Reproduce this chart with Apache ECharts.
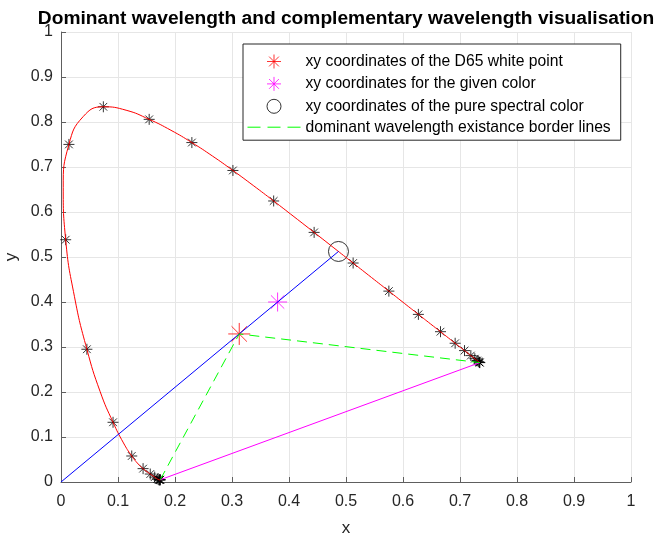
<!DOCTYPE html>
<html>
<head>
<meta charset="utf-8">
<script src="https://cdn.jsdelivr.net/npm/echarts@6/dist/echarts.min.js"></script>
<style>
  html, body { margin: 0; padding: 0; background: #fff; }
  #chart { width: 657px; height: 535px; }
</style>
</head>
<body>
<div id="chart"></div>
<script>
// CIE 1931 2° spectral locus, 5 nm steps (380–700 nm)
const wavelengths = [380,385,390,395,400,405,410,415,420,425,430,435,440,445,450,455,460,465,470,475,
  480,485,490,495,500,505,510,515,520,525,530,535,540,545,550,555,560,565,570,575,
  580,585,590,595,600,605,610,615,620,625,630,635,640,645,650,655,660,665,670,675,
  680,685,690,695,700];
const locusX = [0.1741,0.1740,0.1738,0.1736,0.1733,0.1730,0.1726,0.1721,0.1714,0.1703,0.1689,0.1669,0.1644,0.1611,0.1566,0.1510,0.1440,0.1355,0.1241,0.1096,
  0.0913,0.0687,0.0454,0.0235,0.0082,0.0039,0.0139,0.0389,0.0743,0.1142,0.1547,0.1929,0.2296,0.2658,0.3016,0.3373,0.3731,0.4087,0.4441,0.4788,
  0.5125,0.5448,0.5752,0.6029,0.6270,0.6482,0.6658,0.6801,0.6915,0.7006,0.7079,0.7140,0.7190,0.7230,0.7260,0.7283,0.7300,0.7311,0.7320,0.7327,
  0.7334,0.7340,0.7344,0.7346,0.7347];
const locusY = [0.0050,0.0050,0.0049,0.0049,0.0048,0.0048,0.0048,0.0048,0.0051,0.0058,0.0069,0.0086,0.0109,0.0138,0.0177,0.0227,0.0297,0.0399,0.0578,0.0868,
  0.1327,0.2007,0.2950,0.4127,0.5384,0.6548,0.7502,0.8120,0.8338,0.8262,0.8059,0.7816,0.7543,0.7243,0.6923,0.6589,0.6245,0.5896,0.5547,0.5202,
  0.4866,0.4544,0.4242,0.3965,0.3725,0.3514,0.3340,0.3197,0.3083,0.2993,0.2920,0.2859,0.2809,0.2770,0.2740,0.2717,0.2700,0.2689,0.2680,0.2673,
  0.2666,0.2660,0.2656,0.2654,0.2653];

// key points
const whitePointD65 = [0.3127, 0.3290];
const givenColor = [0.38, 0.40];
const spectralColor = [0.4868, 0.5123];
const violetEnd = [0.1741, 0.0050];
const redEnd = [0.7347, 0.2653];
const origin = [0, 0];

const axisTicks = [0, 0.1, 0.2, 0.3, 0.4, 0.5, 0.6, 0.7, 0.8, 0.9, 1];

const locusLine = wavelengths.map((w, i) => [locusX[i], locusY[i]]);
// markers every 10 nm
const locusMarks = wavelengths.map((w, i) => [w, locusX[i], locusY[i]])
  .filter(p => p[0] % 10 === 0).map(p => [p[1], p[2]]);

// asterisk marker: + and x combined
const STAR = 'path://M0,-1L0,1M-1,0L1,0M-0.7,-0.7L0.7,0.7M-0.7,0.7L0.7,-0.7';

const FONT = 'Liberation Sans, Arial, Helvetica, sans-serif';
const AXIS_COLOR = '#5e5e5e';
const TEXT_COLOR = '#262626';
const BORDER_DASH = [13, 7];

const chart = echarts.init(document.getElementById('chart'), null, { renderer: 'canvas' });

const axisCommon = {
  type: 'value', min: 0, max: 1, interval: 0.1,
  axisLine: { show: true, onZero: false, lineStyle: { color: AXIS_COLOR, width: 1 } },
  axisTick: { show: true, inside: true, length: 5, lineStyle: { color: AXIS_COLOR } },
  splitLine: { show: true, lineStyle: { color: '#e6e6e6', width: 1 } },
  axisLabel: {
    color: TEXT_COLOR, fontFamily: FONT, fontSize: 16,
    formatter: v => { const t = axisTicks.find(a => Math.abs(a - v) < 1e-9); return t === undefined ? '' : String(t); }
  },
  nameLocation: 'middle',
  nameTextStyle: { color: TEXT_COLOR, fontFamily: FONT, fontSize: 17 }
};

chart.setOption({
  backgroundColor: '#ffffff',
  animation: false,
  title: {
    text: 'Dominant wavelength and complementary wavelength visualisation',
    left: 341, top: 4, textAlign: 'center',
    textStyle: { fontFamily: FONT, fontSize: 19.2, fontWeight: 'bold', color: '#000' }
  },
  grid: { left: 61, top: 32, width: 570, height: 450, containLabel: false, outerBoundsMode: 'none' },
  xAxis: Object.assign({}, axisCommon, {
    name: 'x', nameGap: 38,
    axisLabel: Object.assign({}, axisCommon.axisLabel, { margin: 12 })
  }),
  yAxis: Object.assign({}, axisCommon, {
    name: 'y', nameGap: 32,
    axisLabel: Object.assign({}, axisCommon.axisLabel, { margin: 8 })
  }),
  legend: {
    orient: 'vertical', left: 243, top: 44,
    padding: [8, 10, 5, 4],
    itemWidth: 53, itemHeight: 14, itemGap: 3.4,
    backgroundColor: '#fff', borderColor: '#262626', borderWidth: 1, borderRadius: 0,
    textStyle: { color: '#000', fontFamily: FONT, fontSize: 15.7, lineHeight: 16 },
    data: [
      { name: 'xy coordinates of the D65 white point', icon: STAR,
        itemStyle: { color: 'none', borderColor: '#ff0000', borderWidth: 1 } },
      { name: 'xy coordinates for the given color', icon: STAR,
        itemStyle: { color: 'none', borderColor: '#ff00ff', borderWidth: 1 } },
      { name: 'xy coordinates of the pure spectral color', icon: 'circle',
        itemStyle: { color: 'none', borderColor: '#000', borderWidth: 1 } },
      { name: 'dominant wavelength existance border lines',
        itemStyle: { color: 'rgba(0,0,0,0)', borderWidth: 0, opacity: 0 },
        lineStyle: { color: '#00ff00', width: 1, type: BORDER_DASH } }
    ]
  },
  series: [
    {
      name: 'spectral locus', type: 'line', data: locusLine, smooth: 0.5,
      symbol: 'none', lineStyle: { color: '#ff0000', width: 1 }, silent: true
    },
    {
      name: 'wavelength marks', type: 'scatter', data: locusMarks,
      symbol: STAR, symbolSize: 11,
      itemStyle: { color: 'none', borderColor: '#000', borderWidth: 1 }
    },
    {
      name: 'xy coordinates of the D65 white point', type: 'scatter', data: [whitePointD65],
      symbol: STAR, symbolSize: 22,
      itemStyle: { color: 'none', borderColor: '#ff0000', borderWidth: 1 }
    },
    {
      name: 'xy coordinates for the given color', type: 'scatter', data: [givenColor],
      symbol: STAR, symbolSize: 19,
      itemStyle: { color: 'none', borderColor: '#ff00ff', borderWidth: 1 }
    },
    {
      name: 'xy coordinates of the pure spectral color', type: 'scatter', data: [spectralColor],
      symbol: 'circle', symbolSize: 20,
      itemStyle: { color: 'none', borderColor: '#000', borderWidth: 1 }
    },
    {
      name: 'dominant line', type: 'line', data: [origin, spectralColor],
      symbol: 'none', lineStyle: { color: '#0000ff', width: 1 }
    },
    {
      name: 'line of purples', type: 'line', data: [violetEnd, redEnd],
      symbol: 'none', lineStyle: { color: '#ff00ff', width: 1 }
    },
    {
      name: 'dominant wavelength existance border lines', type: 'line',
      data: [violetEnd, whitePointD65, redEnd],
      symbol: 'none', itemStyle: { color: '#00ff00' },
      lineStyle: { color: '#00ff00', width: 1, type: [10, 6] }
    }
  ]
});
</script>
</body>
</html>
